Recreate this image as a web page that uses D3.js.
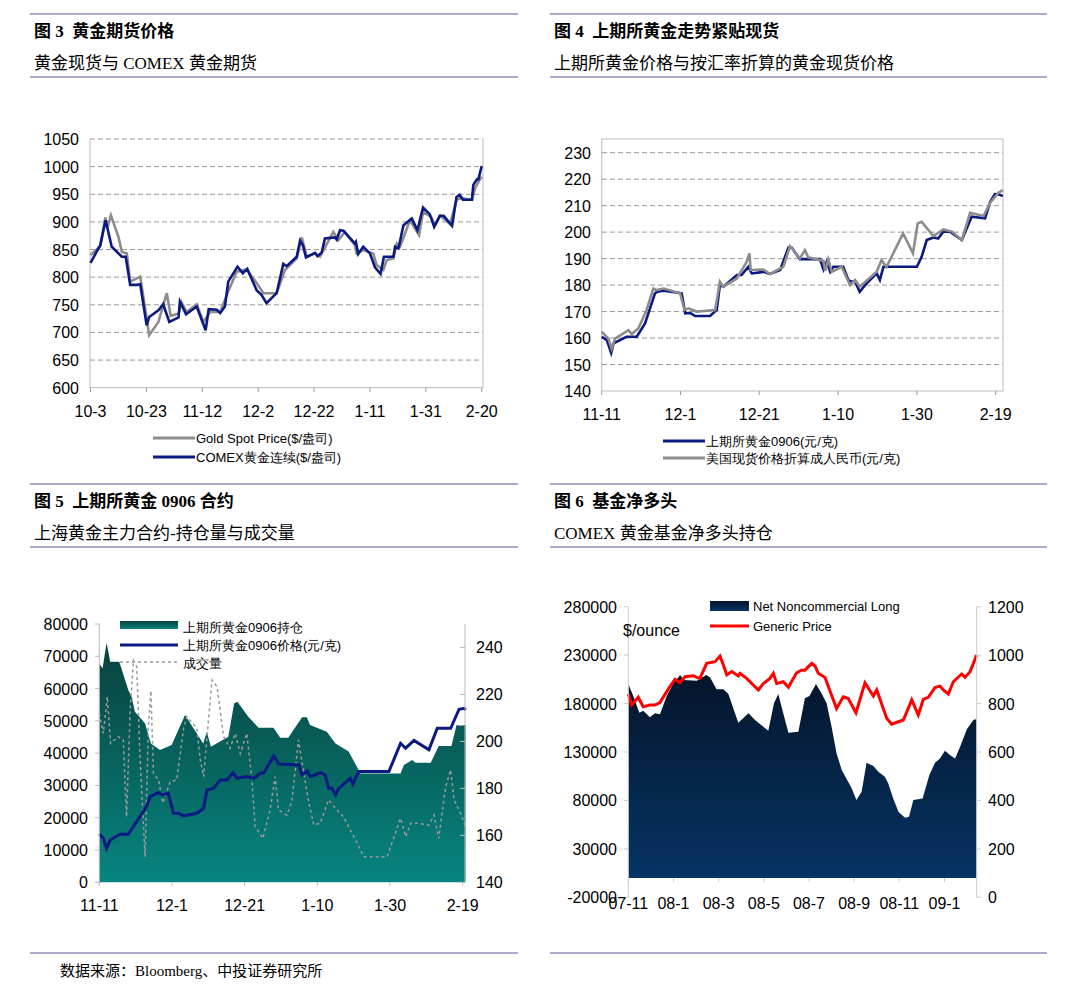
<!DOCTYPE html>
<html><head><meta charset="utf-8">
<script src="https://cdn.jsdelivr.net/npm/d3@7"></script>
<style>body{margin:0;background:#fff}svg{display:block}</style>
</head><body>
<svg id="c" width="1078" height="995"></svg>
<script>
// chart values, [day or month index, value]
const goldSpot = [[0,840],[3.5,856],[5.3,908],[6.1,891],[7.3,912],[10,873],[11.2,846],[13,843],[14.2,792],[17.8,801],[19,762],[21,695],[24.3,719],[27.3,771],[28.7,730],[31.5,734],[32.6,754],[34.4,737],[38,751],[40.4,719],[42.8,737],[46.4,737],[49.3,774],[52.3,810],[55.9,814],[59.5,789],[61.9,771],[66.6,771],[69.6,813],[73.8,834],[75.6,872],[77.4,837],[80.4,843],[82.1,837],[86.9,882],[88.7,867],[91,882],[94.6,858],[95.2,843],[97.6,849],[101.2,843],[102.4,822],[104.8,813],[106,831],[108.4,834],[109.6,861],[110.8,855],[114.3,903],[117.6,876],[119,918],[121.9,909],[123.2,894],[125.2,911],[128.7,896],[131,940],[132.6,943],[136.5,940],[137.6,961],[138.8,972],[140,982]];
const comexGold = [[0,826],[3.5,858],[5.4,903],[7.6,855],[11.2,837],[12.6,837],[14.2,786],[16.6,786],[17.8,787],[20.1,713],[21,728],[24.3,740],[26,751],[28.2,719],[31.5,727],[32,756],[34.2,733],[38,747],[41.2,704],[42.3,742],[45.2,741],[46.4,735],[48.1,747],[49.3,792],[52.6,819],[54.5,807],[56.1,815],[59.5,776],[61.2,768],[63,753],[66.6,771],[69,824],[70.2,820],[73.8,837],[75,866],[76,858],[77.1,836],[80.4,844],[81.2,838],[82.7,844],[83.9,870],[87.5,872],[88.1,868],[89.3,885],[90.5,884],[94.6,861],[95,864],[95.8,842],[97.6,855],[100,843],[101.8,818],[103.8,806],[105,837],[108.4,837],[109,855],[110.2,852],[112,894],[115,906],[117,885],[119,926],[121.4,914],[123,891],[125,911],[126.4,911],[129.4,893],[131,945],[132.1,949],[133.3,940],[136.5,940],[137,967],[138.3,977],[138.8,977],[140,1001]];
const dates1 = ["10-3","10-23","11-12","12-2","12-22","1-11","1-31","2-20"];

const shfe = [[0,160.5],[1.3,159.2],[2.4,154.4],[3,158],[6.3,160.5],[8.9,160.5],[11,165.5],[13.5,176.8],[14.1,177.5],[15.7,177.9],[20.3,176.9],[21.2,169.3],[22.4,169.5],[23.7,168.3],[27.5,168.3],[29.2,170.6],[30,180],[30.9,179.4],[34.3,183.8],[35.5,183.8],[37.2,186.9],[38.1,184.4],[41,185],[42.7,184.2],[45.3,185.7],[47.4,194.2],[48.2,194.2],[50.3,189.8],[55.4,189.8],[56.3,185.9],[57.1,188.8],[58,185],[58.8,186.9],[61.3,186.9],[62.6,181.9],[63.4,181.3],[64.3,181.3],[65.5,177.5],[67.2,180.6],[69.8,184.4],[70.6,181.9],[71.5,186.9],[80,186.9],[81.2,190.7],[82.5,197],[84.2,198],[85.4,197.6],[86.7,200.2],[88.4,200.2],[91.4,197],[93.9,205.8],[97.3,205.2],[98.6,211.5],[99.8,214.4],[100.7,214.3],[101.8,213.6]];
const spotRmb = [[0,162.4],[1.7,159.8],[2.5,156.1],[3.4,159.8],[6.8,163],[7.6,161.5],[9.3,163.6],[11.4,170.6],[13.1,178.7],[13.9,178.1],[15.7,178.7],[19.9,176.9],[21,170.6],[22,171.2],[24.1,170],[28.8,170.6],[30,181.3],[30.9,179.4],[34.3,182.5],[36.8,188.8],[37.5,192],[37.8,185.7],[41,185.9],[42.7,184.2],[46.1,186.9],[47.8,194.7],[50.3,190.1],[51.6,193.2],[52.4,190.5],[56.3,189.2],[56.7,185.4],[57.5,189.7],[58.4,185],[60.9,186.9],[63,180],[64.3,181.9],[65.5,179.4],[69.8,185],[71,189.4],[72.3,186.9],[76.5,199.5],[79,192],[80.2,203.3],[81.2,203.9],[84.2,198.5],[86.7,201],[88.9,200.2],[91.4,197],[93.5,207.3],[96.9,206.1],[98.6,211.1],[100.7,214.9],[101.8,215.9]];
const dates2 = ["11-11","12-1","12-21","1-10","1-30","2-19"];

const openInt = [[0,67800],[0.9,66250],[2,74200],[3,68300],[5.5,68300],[8,59500],[8.9,57500],[9.8,52800],[12.6,49200],[14.2,43000],[16.7,41000],[19.9,42500],[23.6,51800],[25.9,47700],[28.6,43000],[29.6,46600],[30.7,42000],[35.5,45100],[37.1,55400],[38,55900],[41,51300],[43.8,47900],[47.9,47900],[49.8,44800],[52,44800],[55.8,51100],[57.1,51100],[58,48700],[62.6,46600],[65,43000],[68.6,40500],[71.9,33700],[82.9,33700],[83.8,36300],[86.1,37900],[87,37000],[91.2,37000],[93.4,42200],[96.9,42200],[98.3,48700],[99.4,48500],[100.8,48700]];
const price0906 = [[0,160.5],[1.1,158.8],[2,154.5],[3,158],[5.7,160.5],[8,160.5],[10.3,165.9],[13,172.2],[14,176.5],[16.3,178.2],[17.2,177.2],[19,177.9],[20.4,169.4],[21.8,169.4],[23.2,168.3],[26.8,169.4],[28.7,171.5],[29.6,179.3],[31.4,180],[33.3,183.6],[35.1,183.6],[36.8,186.7],[37.9,184.3],[40.6,185],[42.5,184.3],[44.3,186.4],[45.2,186.4],[48,193.8],[49.4,190.4],[54.9,190],[55.8,185.7],[57.2,187.4],[58.1,185],[60.9,186.7],[62.2,185.7],[63.1,180],[64,180],[65,177.2],[65.9,180],[69.1,184.3],[69.8,181.9],[71.4,187.2],[79.7,187.2],[82.9,199.2],[84.3,197.1],[86.6,200.4],[90.7,196.4],[93,205.6],[96.7,205.6],[99,213.7],[100.4,214.1],[100.8,213.4]];
const volume = [[0,52300],[1.1,46100],[2.2,57500],[3.1,43000],[5.2,45100],[6.6,44100],[7.5,20300],[8.5,53300],[9.4,68800],[10.3,66800],[11.2,38900],[12.6,7900],[13.5,48200],[14.2,59300],[14.9,33700],[16.3,31700],[17.5,24500],[19.5,31200],[21.3,31700],[23.2,47700],[24.1,51300],[26.8,47700],[27.8,37900],[28.7,32700],[31,62600],[32.4,60600],[34.2,45100],[36,41500],[37.4,46100],[38.8,39900],[40.6,46100],[42,31700],[42.9,17200],[45,13600],[47,22400],[48.4,32700],[49.3,22400],[51.6,20800],[53,25000],[54.8,44100],[55.7,37900],[57.5,25500],[59,17800],[60.8,18300],[63.1,25500],[65.4,22400],[67.2,20300],[70.5,13100],[72.8,7900],[79.2,7900],[82.9,19800],[84.3,14100],[85.7,18300],[87.5,18300],[90.7,17700],[92.1,20800],[93.4,13600],[95.3,29600],[96.7,34800],[97.6,25500],[99.4,21400],[100.8,17200]];

const netLong = [[0,200200],[0.22,187800],[0.49,170600],[0.66,172600],[0.96,165800],[1.18,169900],[1.4,168900],[1.7,187800],[2,200900],[2.3,209500],[2.44,204300],[3.03,203600],[3.45,209500],[3.62,207000],[3.91,194700],[4.21,194700],[4.43,189800],[4.87,160200],[5.32,169900],[5.61,163000],[6.2,152000],[6.45,180200],[6.64,189800],[6.86,169900],[7.09,149900],[7.53,151000],[7.82,185400],[8.02,187800],[8.31,200200],[8.56,190500],[8.78,180200],[9,156100],[9.22,128600],[9.45,111400],[9.89,92500],[10.1,80400],[10.33,89000],[10.55,119000],[10.85,115500],[11.07,109700],[11.36,104500],[11.51,97600],[11.73,82100],[11.96,68400],[12.25,62200],[12.43,63200],[12.62,80400],[13.03,82100],[13.33,106200],[13.58,119000],[13.8,123400],[14.02,131300],[14.24,126900],[14.47,123400],[14.69,135500],[14.99,153400],[15.28,163000],[15.42,164000]];
const genericPrice = [[0,839],[0.15,794],[0.44,826],[0.66,787],[0.96,794],[1.18,794],[1.4,804],[1.84,870],[2.07,900],[2.29,886],[2.51,911],[2.88,915],[3.03,908],[3.17,904],[3.47,966],[3.84,973],[4.06,996],[4.21,959],[4.36,918],[4.58,932],[4.87,914],[4.95,925],[5.24,904],[5.76,856],[5.98,883],[6.27,904],[6.42,925],[6.57,883],[6.86,890],[7.09,867],[7.45,927],[7.67,938],[7.82,938],[8.12,966],[8.27,955],[8.41,925],[8.71,908],[9.22,780],[9.52,828],[9.74,821],[10.08,762],[10.48,886],[10.85,831],[11,856],[11.44,739],[11.66,715],[11.96,725],[12.18,732],[12.55,815],[12.84,753],[13.06,817],[13.28,826],[13.58,866],[13.8,872],[13.95,856],[14.17,839],[14.39,890],[14.76,922],[14.91,908],[15.13,932],[15.28,966],[15.42,1000]];
const months4 = ["07-11","08-1","08-3","08-5","08-7","08-9","08-11","09-1"];

const svg = d3.select("#c");
const SANS = "'Liberation Sans', Arial, sans-serif";
const CJK = "'Liberation Serif','Noto Sans CJK SC', serif";
const RULE = "#5b5496";
const FS = 16;

// ---- headers
function header(x0, x1, yTop, title, sub) {
  svg.append("line").attr("x1", x0).attr("x2", x1).attr("y1", yTop).attr("y2", yTop).attr("stroke", RULE).attr("stroke-width", 1.2);
  svg.append("text").attr("x", x0 + 4).attr("y", yTop + 23).attr("font-family", CJK).attr("font-size", 17).attr("font-weight", "bold").attr("xml:space", "preserve").text(title);
  svg.append("text").attr("x", x0 + 4).attr("y", yTop + 55).attr("font-family", CJK).attr("font-size", 17).text(sub);
  svg.append("line").attr("x1", x0).attr("x2", x1).attr("y1", yTop + 63).attr("y2", yTop + 63).attr("stroke", RULE).attr("stroke-width", 1.2);
}
header(30, 518, 14, "图 3  黄金期货价格", "黄金现货与 COMEX 黄金期货");
header(550, 1047, 14, "图 4  上期所黄金走势紧贴现货", "上期所黄金价格与按汇率折算的黄金现货价格");
header(30, 518, 484, "图 5  上期所黄金 0906 合约", "上海黄金主力合约-持仓量与成交量");
header(550, 1047, 484, "图 6  基金净多头", "COMEX 黄金基金净多头持仓");
svg.append("line").attr("x1", 30).attr("x2", 518).attr("y1", 953).attr("y2", 953).attr("stroke", RULE).attr("stroke-width", 1.2);
svg.append("line").attr("x1", 550).attr("x2", 1047).attr("y1", 953).attr("y2", 953).attr("stroke", RULE).attr("stroke-width", 1.2);
svg.append("text").attr("x", 60).attr("y", 976).attr("font-family", CJK).attr("font-size", 15).text("数据来源：Bloomberg、中投证券研究所");

const pt = (x, y) => d3.line().x(d => x(d[0])).y(d => y(d[1]));

function legendLine(x, y, color, label, dash) {
  svg.append("line").attr("x1", x).attr("x2", x + 42).attr("y1", y).attr("y2", y)
    .attr("stroke", color).attr("stroke-width", 3).attr("stroke-dasharray", dash || null);
  svg.append("text").attr("x", x + 43).attr("y", y + 5).attr("font-family", SANS).attr("font-size", 13).text(label);
}

function yLabels(g, scale, ticks, x, anchor, fmt) {
  g.selectAll(null).data(ticks).join("text")
    .attr("x", x).attr("y", d => scale(d) + 6).attr("text-anchor", anchor)
    .attr("font-family", SANS).attr("font-size", FS).text(fmt || (d => d));
}

// ---- panel 1
{
  const x = d3.scaleLinear().domain([0, 140]).range([90.5, 481.7]);
  const y = d3.scaleLinear().domain([600, 1050]).range([387.7, 139]);
  const g = svg.append("g");
  const ticks = d3.range(600, 1051, 50);
  g.selectAll(null).data(ticks.slice(1)).join("line").attr("x1", 90).attr("x2", 483)
    .attr("y1", d => y(d)).attr("y2", d => y(d)).attr("stroke", "#999").attr("stroke-dasharray", "5,3");
  g.append("path").attr("d", `M90,139V387.7H483V139`).attr("fill", "none").attr("stroke", "#bbb");
  g.selectAll(null).data(dates1).join("line").attr("x1", (d, i) => x(i * 20)).attr("x2", (d, i) => x(i * 20))
    .attr("y1", 387.7).attr("y2", 392).attr("stroke", "#999");
  yLabels(g, y, ticks, 79, "end");
  g.selectAll(null).data(dates1).join("text").attr("x", (d, i) => x(i * 20)).attr("y", 417).attr("text-anchor", "middle")
    .attr("font-family", SANS).attr("font-size", FS).text(d => d);
  g.append("path").attr("d", pt(x, y)(goldSpot)).attr("fill", "none").attr("stroke", "#8c8c8c").attr("stroke-width", 2.6);
  g.append("path").attr("d", pt(x, y)(comexGold)).attr("fill", "none").attr("stroke", "#0b1a80").attr("stroke-width", 2.6);
  legendLine(153, 438, "#8c8c8c", "Gold Spot Price($/盎司)");
  legendLine(153, 457, "#0b1a80", "COMEX黄金连续($/盎司)");
}

// ---- panel 2
{
  const x = d3.scaleLinear().domain([0, 100]).range([601.7, 995.7]);
  const y = d3.scaleLinear().domain([140, 230]).range([391, 152.7]);
  const g = svg.append("g");
  const ticks = d3.range(140, 231, 10);
  g.selectAll(null).data(ticks.slice(1)).join("line").attr("x1", 602).attr("x2", 1003)
    .attr("y1", d => y(d)).attr("y2", d => y(d)).attr("stroke", "#999").attr("stroke-dasharray", "5,3");
  g.append("rect").attr("x", 601.7).attr("y", 139).attr("width", 401.3).attr("height", 252).attr("fill", "none").attr("stroke", "#bbb");
  g.selectAll(null).data(dates2).join("line").attr("x1", (d, i) => x(i * 20)).attr("x2", (d, i) => x(i * 20))
    .attr("y1", 391).attr("y2", 395).attr("stroke", "#999");
  yLabels(g, y, ticks, 591, "end");
  g.selectAll(null).data(dates2).join("text").attr("x", (d, i) => x(i * 20)).attr("y", 420).attr("text-anchor", "middle")
    .attr("font-family", SANS).attr("font-size", FS).text(d => d);
  g.append("path").attr("d", pt(x, y)(shfe)).attr("fill", "none").attr("stroke", "#0b1a80").attr("stroke-width", 2.6);
  g.append("path").attr("d", pt(x, y)(spotRmb)).attr("fill", "none").attr("stroke", "#8c8c8c").attr("stroke-width", 2.6);
  legendLine(663, 441, "#0b1a80", "上期所黄金0906(元/克)");
  legendLine(663, 458, "#8c8c8c", "美国现货价格折算成人民币(元/克)");
}

// ---- panel 3
{
  const x = d3.scaleLinear().domain([0, 100]).range([99.3, 462.7]);
  const yL = d3.scaleLinear().domain([0, 80000]).range([882.3, 624]);
  const yR = d3.scaleLinear().domain([140, 250]).range([882.3, 624]);
  const g = svg.append("g");
  const defs = svg.append("defs");
  const gr = defs.append("linearGradient").attr("id", "teal").attr("x1", 0).attr("x2", 0).attr("y1", 0).attr("y2", 1);
  gr.append("stop").attr("offset", "0%").attr("stop-color", "#08413d");
  gr.append("stop").attr("offset", "100%").attr("stop-color", "#078580");
  const area = d3.area().x(d => x(d[0])).y0(yL(0)).y1(d => yL(d[1]));
  g.append("path").attr("d", area(openInt)).attr("fill", "url(#teal)").attr("stroke", "none");
  g.append("path").attr("d", pt(x, yL)(volume)).attr("fill", "none").attr("stroke", "#9a9a9a").attr("stroke-width", 1.5).attr("stroke-dasharray", "3,3");
  g.append("path").attr("d", pt(x, yR)(price0906)).attr("fill", "none").attr("stroke", "#0b1a80").attr("stroke-width", 3);
  g.append("line").attr("x1", 99.3).attr("x2", 99.3).attr("y1", 624).attr("y2", 882.3).attr("stroke", "#bbb");
  g.append("line").attr("x1", 465).attr("x2", 465).attr("y1", 624).attr("y2", 882.3).attr("stroke", "#bbb");
  const lt = d3.range(0, 80001, 10000), rt = d3.range(140, 241, 20);
  g.selectAll(null).data(lt).join("line").attr("x1", 95).attr("x2", 99.3).attr("y1", d => yL(d)).attr("y2", d => yL(d)).attr("stroke", "#bbb");
  g.selectAll(null).data(rt).join("line").attr("x1", 460).attr("x2", 465).attr("y1", d => yR(d)).attr("y2", d => yR(d)).attr("stroke", "#bbb");
  g.selectAll(null).data(dates2).join("line").attr("x1", (d, i) => x(i * 20)).attr("x2", (d, i) => x(i * 20))
    .attr("y1", 882.3).attr("y2", 886).attr("stroke", "#bbb");
  yLabels(g, yL, lt, 88, "end");
  yLabels(g, yR, rt, 476, "start");
  g.selectAll(null).data(dates2).join("text").attr("x", (d, i) => x(i * 20)).attr("y", 911).attr("text-anchor", "middle")
    .attr("font-family", SANS).attr("font-size", FS).text(d => d);
  g.append("rect").attr("x", 120).attr("y", 621).attr("width", 58).attr("height", 8).attr("fill", "url(#teal)");
  g.append("text").attr("x", 183).attr("y", 632).attr("font-family", SANS).attr("font-size", 13).text("上期所黄金0906持仓");
  g.append("line").attr("x1", 120).attr("x2", 178).attr("y1", 645).attr("y2", 645).attr("stroke", "#0b1a80").attr("stroke-width", 3);
  g.append("text").attr("x", 183).attr("y", 650).attr("font-family", SANS).attr("font-size", 13).text("上期所黄金0906价格(元/克)");
  g.append("line").attr("x1", 120).attr("x2", 178).attr("y1", 662).attr("y2", 662).attr("stroke", "#9a9a9a").attr("stroke-width", 1.5).attr("stroke-dasharray", "3,3");
  g.append("text").attr("x", 183).attr("y", 668).attr("font-family", SANS).attr("font-size", 13).text("成交量");
}

// ---- panel 4
{
  const x = d3.scaleLinear().domain([0, 14]).range([628.3, 944.5]);
  const yL = d3.scaleLinear().domain([-20000, 280000]).range([897.3, 606.7]);
  const yR = d3.scaleLinear().domain([0, 1200]).range([897.3, 606.7]);
  const g = svg.append("g");
  const defs = svg.append("defs");
  const gr = defs.append("linearGradient").attr("id", "navy").attr("x1", 0).attr("x2", 0).attr("y1", 0).attr("y2", 1);
  gr.append("stop").attr("offset", "0%").attr("stop-color", "#05152b");
  gr.append("stop").attr("offset", "100%").attr("stop-color", "#053465");
  const area = d3.area().x(d => x(d[0])).y0(yL(0)).y1(d => yL(d[1]));
  g.append("path").attr("d", area(netLong)).attr("fill", "url(#navy)");
  g.append("path").attr("d", pt(x, yR)(genericPrice)).attr("fill", "none").attr("stroke", "#ff0000").attr("stroke-width", 3);
  g.append("line").attr("x1", 628.3).attr("x2", 628.3).attr("y1", 606.7).attr("y2", 897.3).attr("stroke", "#ccc");
  g.append("line").attr("x1", 976.7).attr("x2", 976.7).attr("y1", 606.7).attr("y2", 897.3).attr("stroke", "#ccc");
  const lt = d3.range(-20000, 280001, 50000), rt = d3.range(0, 1201, 200);
  g.selectAll(null).data(lt).join("line").attr("x1", 624).attr("x2", 628.3).attr("y1", d => yL(d)).attr("y2", d => yL(d)).attr("stroke", "#ccc");
  g.selectAll(null).data(rt).join("line").attr("x1", 976.7).attr("x2", 981).attr("y1", d => yR(d)).attr("y2", d => yR(d)).attr("stroke", "#ccc");
  g.selectAll(null).data(months4).join("line").attr("x1", (d, i) => x(i * 2)).attr("x2", (d, i) => x(i * 2))
    .attr("y1", yL(0)).attr("y2", yL(0) + 4).attr("stroke", "#ccc");
  yLabels(g, yL, lt, 617, "end");
  yLabels(g, yR, rt, 988, "start");
  g.selectAll(null).data(months4).join("text").attr("x", (d, i) => x(i * 2)).attr("y", 909).attr("text-anchor", "middle")
    .attr("font-family", SANS).attr("font-size", FS).text(d => d);
  g.append("text").attr("x", 623).attr("y", 636).attr("font-family", SANS).attr("font-size", FS).text("$/ounce");
  g.append("rect").attr("x", 710).attr("y", 601).attr("width", 39).attr("height", 10).attr("fill", "url(#navy)");
  g.append("text").attr("x", 753).attr("y", 611).attr("font-family", SANS).attr("font-size", 13).text("Net Noncommercial Long");
  g.append("line").attr("x1", 710).attr("x2", 749).attr("y1", 626).attr("y2", 626).attr("stroke", "#ff0000").attr("stroke-width", 3);
  g.append("text").attr("x", 753).attr("y", 631).attr("font-family", SANS).attr("font-size", 13).text("Generic Price");
}
</script>
</body></html>
